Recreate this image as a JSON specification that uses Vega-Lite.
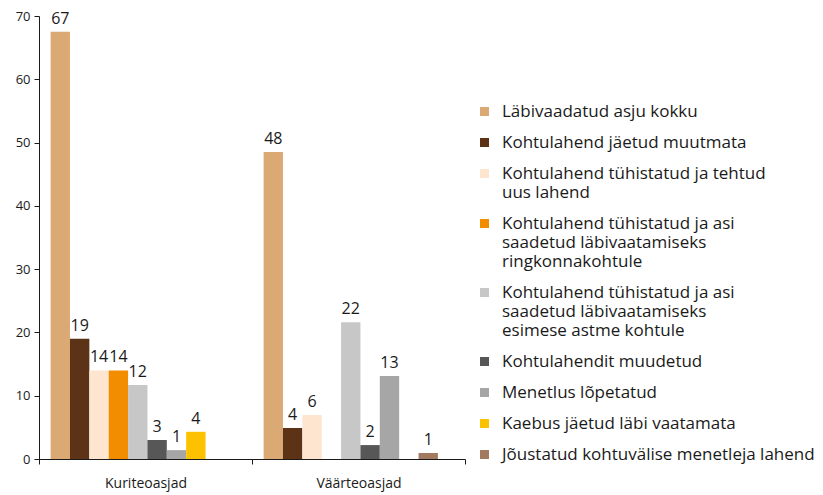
{
  "$schema": "https://vega.github.io/schema/vega-lite/v6.json",
  "width": 426,
  "height": 443,
  "autosize": {"type": "none"},
  "padding": {"left": 39, "top": 16, "right": 358, "bottom": 36},
  "background": "white",
  "config": {
    "view": {"stroke": null},
    "font": "Open Sans",
    "style": {"guide-label": {"lineHeight": 19}}
  },
  "data": {
    "values": [
      {"group": "Kuriteoasjad", "category": "Läbivaadatud asju kokku", "value": 67.5, "label": "67"},
      {"group": "Kuriteoasjad", "category": "Kohtulahend jäetud muutmata", "value": 19, "label": "19"},
      {"group": "Kuriteoasjad", "category": "Kohtulahend tühistatud ja tehtud uus lahend", "value": 14, "label": "14"},
      {"group": "Kuriteoasjad", "category": "Kohtulahend tühistatud ja asi saadetud läbivaatamiseks ringkonnakohtule", "value": 14, "label": "14"},
      {"group": "Kuriteoasjad", "category": "Kohtulahend tühistatud ja asi saadetud läbivaatamiseks esimese astme kohtule", "value": 11.7, "label": "12"},
      {"group": "Kuriteoasjad", "category": "Kohtulahendit muudetud", "value": 3, "label": "3"},
      {"group": "Kuriteoasjad", "category": "Menetlus lõpetatud", "value": 1.4, "label": "1"},
      {"group": "Kuriteoasjad", "category": "Kaebus jäetud läbi vaatamata", "value": 4.3, "label": "4"},
      {"group": "Väärteoasjad", "category": "Läbivaadatud asju kokku", "value": 48.5, "label": "48"},
      {"group": "Väärteoasjad", "category": "Kohtulahend jäetud muutmata", "value": 4.9, "label": "4"},
      {"group": "Väärteoasjad", "category": "Kohtulahend tühistatud ja tehtud uus lahend", "value": 6.95, "label": "6"},
      {"group": "Väärteoasjad", "category": "Kohtulahend tühistatud ja asi saadetud läbivaatamiseks esimese astme kohtule", "value": 21.6, "label": "22"},
      {"group": "Väärteoasjad", "category": "Kohtulahendit muudetud", "value": 2.2, "label": "2"},
      {"group": "Väärteoasjad", "category": "Menetlus lõpetatud", "value": 13.1, "label": "13"},
      {"group": "Väärteoasjad", "category": "Jõustatud kohtuvälise menetleja lahend", "value": 0.95, "label": "1"}
    ]
  },
  "encoding": {
    "x": {
      "field": "group",
      "type": "nominal",
      "sort": ["Kuriteoasjad", "Väärteoasjad"],
      "scale": {"paddingInner": 0, "paddingOuter": 0},
      "axis": {
        "title": null,
        "labelAngle": 0,
        "tickBand": "extent",
        "tickSize": 5,
        "tickColor": "#1a1a1a",
        "domainColor": "#1a1a1a",
        "labelPadding": 12,
        "labelFontSize": 14,
        "labelColor": "#1a1a1a"
      }
    },
    "xOffset": {
      "field": "category",
      "type": "nominal",
      "scale": {
        "domain": [
          "Läbivaadatud asju kokku",
          "Kohtulahend jäetud muutmata",
          "Kohtulahend tühistatud ja tehtud uus lahend",
          "Kohtulahend tühistatud ja asi saadetud läbivaatamiseks ringkonnakohtule",
          "Kohtulahend tühistatud ja asi saadetud läbivaatamiseks esimese astme kohtule",
          "Kohtulahendit muudetud",
          "Menetlus lõpetatud",
          "Kaebus jäetud läbi vaatamata",
          "Jõustatud kohtuvälise menetleja lahend"
        ],
        "paddingInner": 0,
        "paddingOuter": 1.2,
        "align": 0.3
      }
    },
    "y": {
      "field": "value",
      "type": "quantitative",
      "scale": {"domain": [0, 70]},
      "axis": {
        "title": null,
        "values": [0, 10, 20, 30, 40, 50, 60, 70],
        "grid": false,
        "tickSize": 5,
        "tickColor": "#1a1a1a",
        "domainColor": "#1a1a1a",
        "labelPadding": 4,
        "labelFontSize": 13,
        "labelColor": "#1a1a1a"
      }
    }
  },
  "layer": [
    {
      "mark": {"type": "bar"},
      "encoding": {
        "color": {
          "field": "category",
          "type": "nominal",
          "scale": {
            "domain": [
              "Läbivaadatud asju kokku",
              "Kohtulahend jäetud muutmata",
              "Kohtulahend tühistatud ja tehtud uus lahend",
              "Kohtulahend tühistatud ja asi saadetud läbivaatamiseks ringkonnakohtule",
              "Kohtulahend tühistatud ja asi saadetud läbivaatamiseks esimese astme kohtule",
              "Kohtulahendit muudetud",
              "Menetlus lõpetatud",
              "Kaebus jäetud läbi vaatamata",
              "Jõustatud kohtuvälise menetleja lahend"
            ],
            "range": ["#DBA974", "#5C3317", "#FDE5CF", "#F28C00", "#C6C7C6", "#575757", "#A6A6A6", "#FCC200", "#A27A60"]
          },
          "legend": {
            "orient": "none",
            "legendX": 437,
            "legendY": 87,
            "title": null,
            "symbolType": "square",
            "symbolSize": 81,
            "symbolStrokeWidth": 0,
            "labelFontSize": 17,
            "labelColor": "#1a1a1a",
            "labelLimit": 400,
            "labelOffset": 9,
            "rowPadding": 13,
            "labelExpr": "datum.label == 'Kohtulahend tühistatud ja tehtud uus lahend' ? ['Kohtulahend tühistatud ja tehtud', 'uus lahend'] : datum.label == 'Kohtulahend tühistatud ja asi saadetud läbivaatamiseks ringkonnakohtule' ? ['Kohtulahend tühistatud ja asi', 'saadetud läbivaatamiseks', 'ringkonnakohtule'] : datum.label == 'Kohtulahend tühistatud ja asi saadetud läbivaatamiseks esimese astme kohtule' ? ['Kohtulahend tühistatud ja asi', 'saadetud läbivaatamiseks', 'esimese astme kohtule'] : datum.label"
          }
        }
      }
    },
    {
      "mark": {"type": "text", "baseline": "bottom", "dy": -5, "fontSize": 16, "color": "#1a1a1a"},
      "encoding": {"text": {"field": "label"}}
    }
  ]
}
